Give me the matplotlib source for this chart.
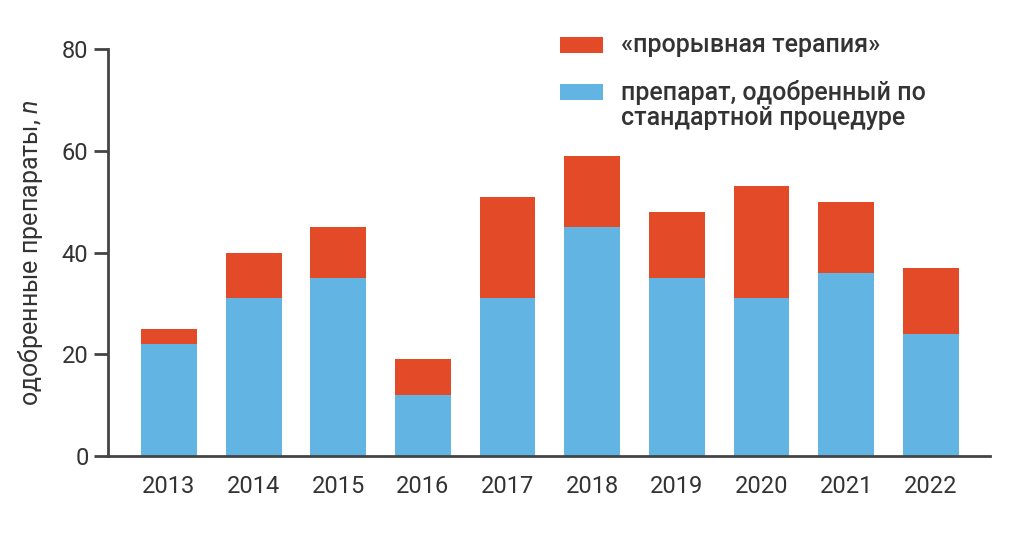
import matplotlib
matplotlib.use("Agg")
import matplotlib.pyplot as plt
from matplotlib.patches import Rectangle
import numpy as np

years = ["2013", "2014", "2015", "2016", "2017", "2018", "2019", "2020", "2021", "2022"]
standard = [22, 31, 35, 12, 31, 45, 35, 31, 36, 24]
breakthrough = [3, 9, 10, 7, 20, 14, 13, 22, 14, 13]
yticks = [0, 20, 40, 60, 80]
label_breakthrough = "«прорывная терапия»"
label_standard = "препарат, одобренный по\nстандартной процедуре"
ylabel = "одобренные препараты, $\\mathit{n}$"

plt.rcParams['font.family'] = ['Roboto', 'DejaVu Sans']
plt.rcParams['mathtext.fontset'] = 'custom'
plt.rcParams['mathtext.it'] = 'Roboto:italic'
plt.rcParams['mathtext.rm'] = 'Roboto'

RED = "#E34A27"
BLUE = "#62B5E3"
TXT = "#333333"
AX = "#444444"

W, H = 1024, 533
fig = plt.figure(figsize=(W / 100, H / 100), dpi=100)
ax = fig.add_axes([108 / W, 1 - 456 / H, (990 - 108) / W, (456 - 49) / H])

x = np.arange(len(years))
b1 = ax.bar(x, standard, width=0.66, color=BLUE, zorder=2)
b2 = ax.bar(x, breakthrough, width=0.66, bottom=standard, color=RED, zorder=2)

ax.set_xlim(-0.72, 9.70)
ax.set_ylim(0, 80)
ax.set_xticks(x)
ax.set_xticklabels(years)
ax.set_yticks(yticks)
ax.tick_params(axis='x', length=0, pad=14, labelsize=17, labelcolor=TXT)
ax.tick_params(axis='y', length=10, width=2, color=AX, pad=4, labelsize=17, labelcolor=TXT)
for s in ['top', 'right']:
    ax.spines[s].set_visible(False)
for s in ['left', 'bottom']:
    ax.spines[s].set_linewidth(2)
    ax.spines[s].set_color(AX)
ax.set_ylabel(ylabel, fontsize=18, color=TXT, labelpad=12)

# legend (manual, handles aligned with the first text line)
def fx(px):
    return px / W

def fy(py):
    return 1 - py / H

for (color, y0, y1) in [(RED, 37, 53), (BLUE, 84, 100)]:
    fig.patches.append(Rectangle((fx(560), fy(y1)), fx(603) - fx(560), fy(y0) - fy(y1),
                                 transform=fig.transFigure, color=color, linewidth=0))
lines = [(52, label_breakthrough)] + list(zip([100, 125], label_standard.split("\n")))
for base, txt in lines:
    fig.text(fx(621), fy(base), txt, fontsize=18, fontweight='medium',
             color=TXT, va='baseline', ha='left')

fig.savefig("out.png", dpi=100)
